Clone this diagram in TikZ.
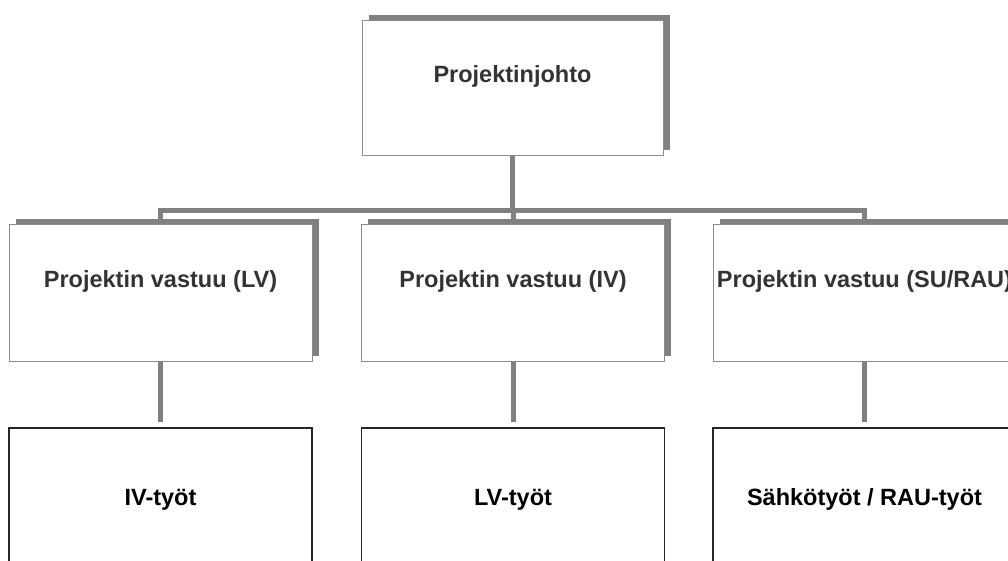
\documentclass[tikz,border=0pt]{standalone}
\usepackage{fontspec}
\setmainfont{Liberation Sans}
\usetikzlibrary{shadows,backgrounds}
\definecolor{shadowgray}{HTML}{808080}
\definecolor{linegray}{HTML}{808080}
\definecolor{bordergray}{HTML}{8C8C8C}
\definecolor{textdark}{HTML}{333333}
\tikzset{
  boxfont/.style={font=\fontsize{23.5}{28}\selectfont\bfseries},
  upperbox/.style={boxfont, draw=bordergray, line width=1pt, fill=white,
    minimum width=303pt, inner sep=0pt, text=textdark,
    text height=17pt, text depth=28pt,
    drop shadow={shadow xshift=6.5pt, shadow yshift=5.5pt, fill=shadowgray, opacity=1}},
  lowerbox/.style={boxfont, draw=black!85, line width=1.2pt, fill=white,
    minimum width=303pt, minimum height=137pt, inner sep=0pt, text=black,
    text height=17pt, text depth=0pt},
  conn/.style={draw=linegray, line width=5pt},
  busbar/.style={draw=linegray, line width=4.5pt, line cap=rect},
}
\begin{document}
\begin{tikzpicture}[x=1pt,y=-1pt]
  \useasboundingbox (0,0) rectangle (1008,560);
  \clip (0,0) rectangle (1008,560);
  % top level
  \node[upperbox, minimum width=301pt, minimum height=135pt] (top) at (512.5,87.5) {Projektinjohto};
  % middle level
  \node[upperbox, minimum height=137pt] (m1) at (160.5,292.5) {Projektin vastuu (LV)};
  \node[upperbox, minimum height=137pt] (m2) at (513,292.5) {Projektin vastuu (IV)};
  \node[upperbox, minimum height=137pt] (m3) at (864.5,292.5) {Projektin vastuu (SU/RAU)};
  % bottom level
  \node[lowerbox] (b1) at (160.5,496.5) {IV-työt};
  \node[lowerbox] (b2) at (513,496.5) {LV-työt};
  \node[lowerbox] (b3) at (864.5,496.5) {Sähkötyöt / RAU-työt};
  \coordinate (bus) at (513,210.5);
  \begin{scope}[on background layer]
    \draw[conn] (top.south) -- (top.south |- bus);
    \draw[busbar] (m1.north |- bus) -- (m3.north |- bus);
    \foreach \n in {m1,m2,m3}
      \draw[conn] (\n.north) -- (\n.north |- bus);
    \draw[conn, shorten >=5pt] (m1.south) -- (b1.north);
    \draw[conn, shorten >=5pt] (m2.south) -- (b2.north);
    \draw[conn, shorten >=5pt] (m3.south) -- (b3.north);
  \end{scope}
\end{tikzpicture}
\end{document}
